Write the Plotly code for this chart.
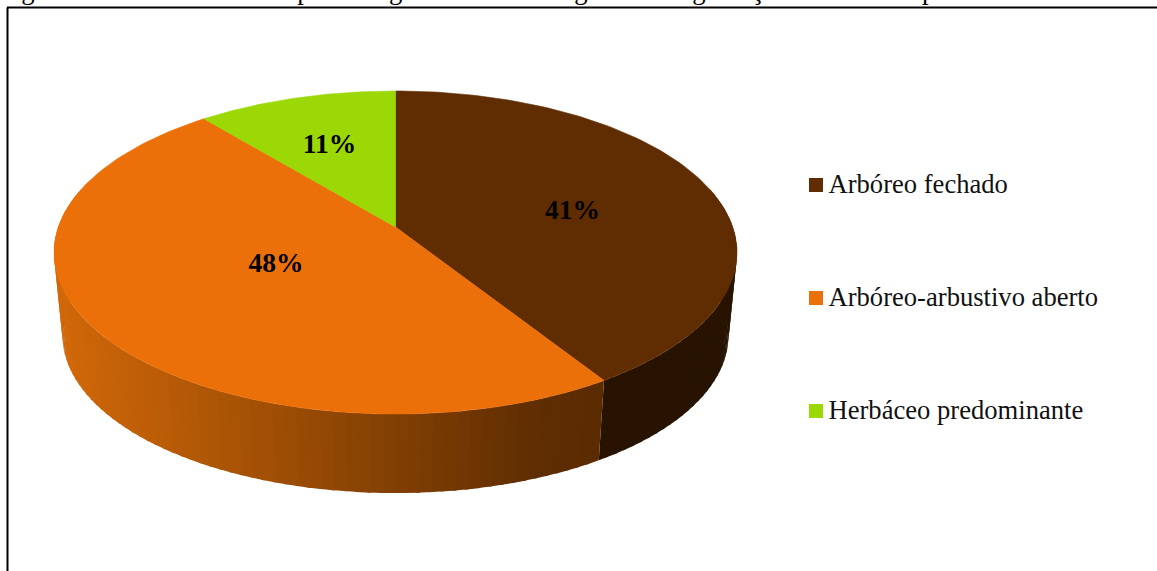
import math
import plotly.graph_objects as go

# Shares of each riparian forest degradation class (%)
categories = ["Arbóreo fechado", "Arbóreo-arbustivo aberto", "Herbáceo predominante"]
shares = [41, 48, 11]
top_colors = ["#602d02", "#ec7009", "#9bd806"]
caption = ("Figura 17 – Gráfico com as porcentagens de cada categoria de degradação "
           "das matas ripárias da área de estudo")

# Perspective disc drawn on a pixel-scaled plane
CX, CY = 395.5, 227.0
RX, RY, K = 337.2, 157.5, 0.158
BASE_SCALE, BASE_DROP = 0.975, 83.7
SERIF = "Liberation Serif, Times New Roman, serif"

# Shading stops for the orange wall: screen x and colour
SHADE_X = [63, 200, 400, 530, 620]
SHADE_RGB = [(208, 103, 9), (176, 87, 6), (128, 62, 4), (96, 46, 2), (90, 42, 2)]


def project(turn, scale=1.0, drop=0.0):
    """Screen point for a rim position given in percent, clockwise from twelve o'clock."""
    a = math.radians(turn * 3.6)
    x, y = math.sin(a), math.cos(a)
    w = 1 + K * y
    return CX + scale * RX * x / w, CY + drop - scale * RY * y / w


def shade(x):
    x = max(SHADE_X[0], min(SHADE_X[-1], x))
    for x0, x1, c0, c1 in zip(SHADE_X, SHADE_X[1:], SHADE_RGB, SHADE_RGB[1:]):
        if x <= x1:
            t = (x - x0) / (x1 - x0)
            return "rgb(%d,%d,%d)" % tuple(round(a + (b - a) * t) for a, b in zip(c0, c1))


def wall_color(index, x):
    if index == 0:
        return "#271300"
    if index == 1:
        return shade(x)
    return "#6f9a04"


fig = go.Figure()

# Side wall: overlapping strips between the rim and the base outline
start = 0.0
for i, share in enumerate(shares):
    steps = max(2, int(share * 2))
    for s in range(steps):
        t0 = start + share * s / steps
        t1 = start + share * (s + 1) / steps
        if math.cos(math.radians((t0 + t1) * 1.8)) > 0.25:
            continue
        # each strip reaches a little under the next one, hiding the seams
        t_far = min(t1 + 0.15, start + share)
        corners = [project(t0), project(t_far),
                   project(t_far, BASE_SCALE, BASE_DROP), project(t0, BASE_SCALE, BASE_DROP)]
        corners.append(corners[0])
        col = wall_color(i, (corners[0][0] + corners[1][0]) / 2)
        fig.add_trace(go.Scatter(
            x=[c[0] for c in corners], y=[c[1] for c in corners], mode="lines",
            fill="toself", fillcolor=col, line=dict(color=col, width=0),
            hoverinfo="skip", showlegend=False))
    start += share

# Top face slices
start = 0.0
for share, col, name in zip(shares, top_colors, categories):
    pts = [project(start + share * s / 120) for s in range(121)]
    xs = [CX] + [p[0] for p in pts] + [CX]
    ys = [CY] + [p[1] for p in pts] + [CY]
    fig.add_trace(go.Scatter(
        x=xs, y=ys, mode="lines", fill="toself", fillcolor=col,
        line=dict(color=col, width=0.6), name=name, hoverinfo="name", showlegend=False))
    start += share

# Percentage labels
label_xy = [(572.5, 212.5), (276, 265), (329.5, 146.5)]
fig.add_trace(go.Scatter(
    x=[p[0] for p in label_xy], y=[p[1] for p in label_xy], mode="text",
    text=[f"<b>{v}%</b>" for v in shares],
    textfont=dict(family=SERIF, size=27.5, color="#000000"),
    textposition="middle center", hoverinfo="skip", showlegend=False))

# Key on the right
key_y = [185, 298, 411]
fig.add_trace(go.Scatter(
    x=[816] * 3, y=key_y, mode="markers",
    marker=dict(symbol="square", size=14, color=top_colors, line=dict(width=0)),
    hoverinfo="skip", showlegend=False))
fig.add_trace(go.Scatter(
    x=[828.5] * 3, y=[v + 1.5 for v in key_y], mode="text", text=categories,
    textposition="middle right",
    textfont=dict(family=SERIF, size=26.6, color="#111111"),
    hoverinfo="skip", showlegend=False))

# Chart frame, running off the page on the right and at the bottom
fig.add_shape(type="line", x0=7.5, x1=7.5, y0=7.5, y1=575,
              line=dict(color="#000000", width=2), layer="above")
fig.add_shape(type="line", x0=7, x1=1160, y0=7.5, y1=7.5,
              line=dict(color="#000000", width=2), layer="above")

# Caption, cropped by the top of the page
fig.add_annotation(x=0, y=1, xref="paper", yref="paper", xanchor="left", yanchor="bottom",
                   xshift=-3, yshift=-7, text=caption, showarrow=False, align="left",
                   font=dict(family=SERIF, size=26.6, color="#000000"))

fig.update_layout(
    width=1157, height=571, margin=dict(l=0, r=0, t=0, b=0),
    paper_bgcolor="#ffffff", plot_bgcolor="#ffffff", showlegend=False,
    xaxis=dict(range=[0, 1157], visible=False, fixedrange=True),
    yaxis=dict(range=[571, 0], visible=False, fixedrange=True),
)
fig.write_html("out.html", config=dict(displayModeBar=False))
